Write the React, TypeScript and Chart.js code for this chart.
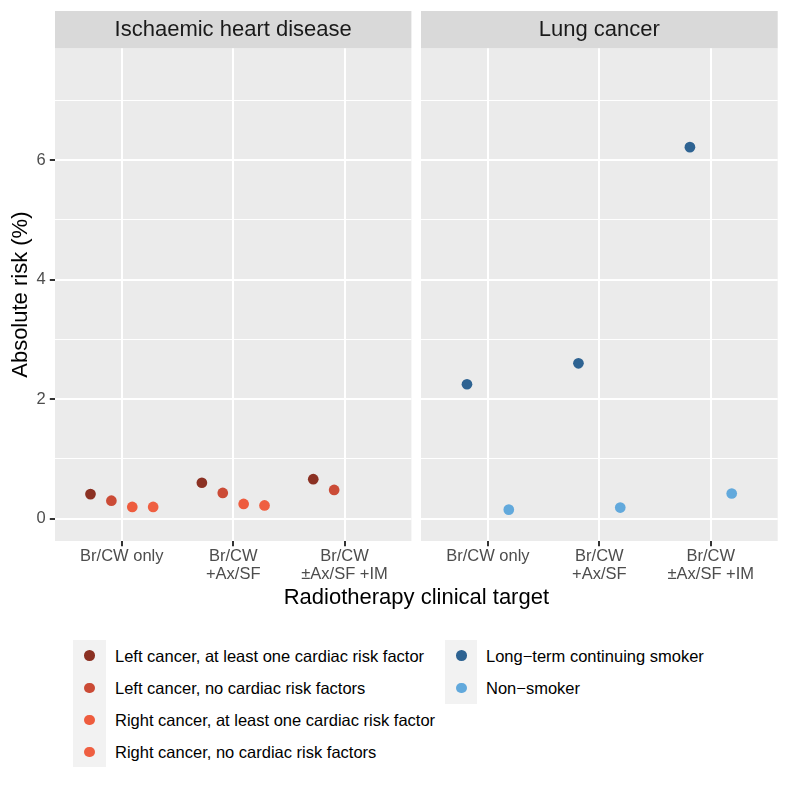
import React, { useEffect, useRef } from 'react';
import { Chart, registerables } from 'chart.js';

Chart.register(...registerables);

// ---------------- data ----------------
const categories = ['Br/CW only', 'Br/CW +Ax/SF', 'Br/CW ±Ax/SF +IM'];
const xTickLabels = [['Br/CW only'], ['Br/CW', '+Ax/SF'], ['Br/CW', '±Ax/SF +IM']];
const yMajorTicks = [0, 2, 4, 6];
const yMinorTicks = [1, 3, 5, 7];
const panelTitles = ['Ischaemic heart disease', 'Lung cancer'];
const xAxisTitle = 'Radiotherapy clinical target';
const yAxisTitle = 'Absolute risk (%)';

const ihdSeriesNames = [
  'Left cancer, at least one cardiac risk factor',
  'Left cancer, no cardiac risk factors',
  'Right cancer, at least one cardiac risk factor',
  'Right cancer, no cardiac risk factors',
];
const ihdColors = ['#8b3123', '#cb4b36', '#ee5c3e', '#ef5f41'];
const leftAtLeastOne = [0.41, 0.6, 0.66];
const leftNone = [0.3, 0.43, 0.48];
const rightAtLeastOne: (number | null)[] = [0.195, 0.245, null];
const rightNone: (number | null)[] = [0.195, 0.22, null];

const lungSeriesNames = ['Long\u2212term continuing smoker', 'Non\u2212smoker'];
const lungColors = ['#2e6392', '#62a9dc'];
const smoker = [2.25, 2.6, 6.22];
const nonSmoker = [0.15, 0.185, 0.42];

// ---------------- style ----------------
const FONT = "'Liberation Sans', Arial, Helvetica, sans-serif";
const X_MIN = 0.4;
const X_MAX = categories.length + 0.6;
const Y_MIN = -0.375;
const Y_MAX = 7.875;
const STRIP_TOP = 11;
const PANEL_TOP = 48.3;
const CANVAS_H = 620;
const X_AXIS_H = 79;
const POINT_R = 5.35;

function dodge(values: (number | null)[], groupIndex: number, groupCount: number) {
  const w = 0.75 / groupCount;
  const off = (groupIndex - (groupCount - 1) / 2) * w;
  const out: { x: number; y: number }[] = [];
  values.forEach((v, i) => {
    if (v != null) out.push({ x: i + 1 + off, y: v });
  });
  return out;
}

const stripPlugin = {
  id: 'strip',
  beforeDraw(chart: any, _args: any, opts: any) {
    const { ctx, chartArea } = chart;
    ctx.save();
    ctx.fillStyle = '#ebebeb';
    ctx.fillRect(chartArea.left, chartArea.top, chartArea.right - chartArea.left, chartArea.bottom - chartArea.top);
    ctx.fillStyle = '#d9d9d9';
    ctx.fillRect(chartArea.left, STRIP_TOP, chartArea.right - chartArea.left, chartArea.top - STRIP_TOP);
    ctx.fillStyle = '#1a1a1a';
    ctx.font = `22px ${FONT}`;
    ctx.textAlign = 'center';
    ctx.textBaseline = 'middle';
    ctx.fillText(opts.text, (chartArea.left + chartArea.right) / 2, (STRIP_TOP + chartArea.top) / 2 + 0.5);
    ctx.restore();
  },
};

function buildConfig(isLeft: boolean, datasets: any[], title: string, padding: any): any {
  const allY = [...yMajorTicks, ...yMinorTicks].sort((a, b) => a - b);
  return {
    type: 'scatter',
    data: { datasets },
    plugins: [stripPlugin],
    options: {
      animation: false,
      responsive: false,
      maintainAspectRatio: false,
      events: [],
      layout: { padding, autoPadding: false },
      plugins: {
        legend: { display: false },
        tooltip: { enabled: false },
        strip: { text: title },
      },
      scales: {
        x: {
          type: 'linear',
          min: X_MIN,
          max: X_MAX,
          afterBuildTicks: (s: any) => {
            s.ticks = xTickLabels.map((_, i) => ({ value: i + 1 }));
          },
          afterFit: (s: any) => {
            s.height = X_AXIS_H;
          },
          ticks: {
            autoSkip: false,
            maxRotation: 0,
            minRotation: 0,
            padding: 1.5,
            color: '#4d4d4d',
            font: { size: 16.5, family: FONT, lineHeight: 1.07 },
            callback: (v: number) => xTickLabels[Math.round(v) - 1] ?? '',
          },
          grid: {
            color: '#ffffff',
            lineWidth: 2,
            drawTicks: true,
            tickLength: 5.2,
            tickWidth: 2,
            tickColor: '#333333',
          },
          border: { display: false },
        },
        y: {
          type: 'linear',
          min: Y_MIN,
          max: Y_MAX,
          afterBuildTicks: (s: any) => {
            s.ticks = allY.map((v) => ({ value: v }));
          },
          afterFit: (s: any) => {
            s.width = isLeft ? 55 : 0;
          },
          ticks: {
            display: isLeft,
            padding: 4,
            color: '#4d4d4d',
            font: { size: 16.5, family: FONT },
            callback: (v: number) => (yMajorTicks.includes(v) ? String(v) : ''),
          },
          grid: {
            color: '#ffffff',
            lineWidth: (c: any) => (c.tick && yMajorTicks.includes(c.tick.value) ? 2 : 1),
            drawTicks: isLeft,
            tickLength: 5.2,
            tickWidth: 2,
            tickColor: (c: any) =>
              c.tick && yMajorTicks.includes(c.tick.value) ? '#333333' : 'rgba(0,0,0,0)',
          },
          border: { display: false },
          title: {
            display: isLeft,
            text: yAxisTitle,
            color: '#000000',
            font: { size: 22, family: FONT },
            padding: { top: 8, bottom: 0 },
          },
        },
      },
    },
  };
}

function pointDataset(label: string, data: any[], color: string) {
  return {
    label,
    data,
    backgroundColor: color,
    borderColor: color,
    borderWidth: 0,
    pointRadius: POINT_R,
    pointHoverRadius: POINT_R,
    pointBorderWidth: 0,
    showLine: false,
  };
}

const legend1Top = 640;
const legendRowH = 32.1;

export default function App() {
  const leftRef = useRef<HTMLCanvasElement | null>(null);
  const rightRef = useRef<HTMLCanvasElement | null>(null);

  useEffect(() => {
    const ihdValues = [leftAtLeastOne, leftNone, rightAtLeastOne, rightNone];
    const ihdDatasets = ihdValues.map((vals, gi) =>
      pointDataset(ihdSeriesNames[gi], dodge(vals, gi, ihdValues.length), ihdColors[gi])
    );
    const lungValues = [smoker, nonSmoker];
    const lungDatasets = lungValues.map((vals, gi) =>
      pointDataset(lungSeriesNames[gi], dodge(vals, gi, lungValues.length), lungColors[gi])
    );
    const c1 = new Chart(
      leftRef.current as HTMLCanvasElement,
      buildConfig(true, ihdDatasets, panelTitles[0], { top: PANEL_TOP, left: 0, right: 4.6, bottom: 0 })
    );
    const c2 = new Chart(
      rightRef.current as HTMLCanvasElement,
      buildConfig(false, lungDatasets, panelTitles[1], { top: PANEL_TOP, left: 5, right: 11.3, bottom: 0 })
    );
    return () => {
      c1.destroy();
      c2.destroy();
    };
  }, []);

  const legendRow = (label: string, color: string, keyX: number, textX: number, cy: number) => (
    <React.Fragment key={label}>
      <div
        style={{
          position: 'absolute',
          left: keyX - POINT_R,
          top: cy - POINT_R,
          width: POINT_R * 2,
          height: POINT_R * 2,
          borderRadius: '50%',
          background: color,
        }}
      />
      <div
        style={{
          position: 'absolute',
          left: textX,
          top: cy - 10,
          height: 20,
          lineHeight: '20px',
          fontSize: 16.5,
          color: '#000000',
          whiteSpace: 'nowrap',
        }}
      >
        {label}
      </div>
    </React.Fragment>
  );

  return (
    <div
      style={{
        position: 'absolute',
        left: 0,
        top: 0,
        width: 789,
        height: 789,
        background: '#ffffff',
        fontFamily: FONT,
        overflow: 'hidden',
      }}
    >
      <canvas
        ref={leftRef}
        width={416}
        height={CANVAS_H}
        style={{ position: 'absolute', left: 0, top: 0, width: 416, height: CANVAS_H }}
      />
      <canvas
        ref={rightRef}
        width={373}
        height={CANVAS_H}
        style={{ position: 'absolute', left: 416, top: 0, width: 373, height: CANVAS_H }}
      />
      <div
        style={{
          position: 'absolute',
          left: 55,
          width: 722.7,
          top: 586,
          height: 22,
          lineHeight: '22px',
          fontSize: 22,
          color: '#000000',
          textAlign: 'center',
          whiteSpace: 'nowrap',
        }}
      >
        {xAxisTitle}
      </div>
      {/* legend 1 */}
      <div
        style={{
          position: 'absolute',
          left: 73.3,
          top: legend1Top,
          width: 32.4,
          height: legendRowH * ihdSeriesNames.length - 1,
          background: '#f2f2f2',
        }}
      />
      {ihdSeriesNames.map((n, i) => legendRow(n, ihdColors[i], 89.6, 115, legend1Top + 15.8 + i * legendRowH))}
      {/* legend 2 */}
      <div
        style={{
          position: 'absolute',
          left: 445,
          top: legend1Top,
          width: 32.4,
          height: legendRowH * lungSeriesNames.length,
          background: '#f2f2f2',
        }}
      />
      {lungSeriesNames.map((n, i) => legendRow(n, lungColors[i], 461.4, 486, legend1Top + 15.8 + i * legendRowH))}
    </div>
  );
}
